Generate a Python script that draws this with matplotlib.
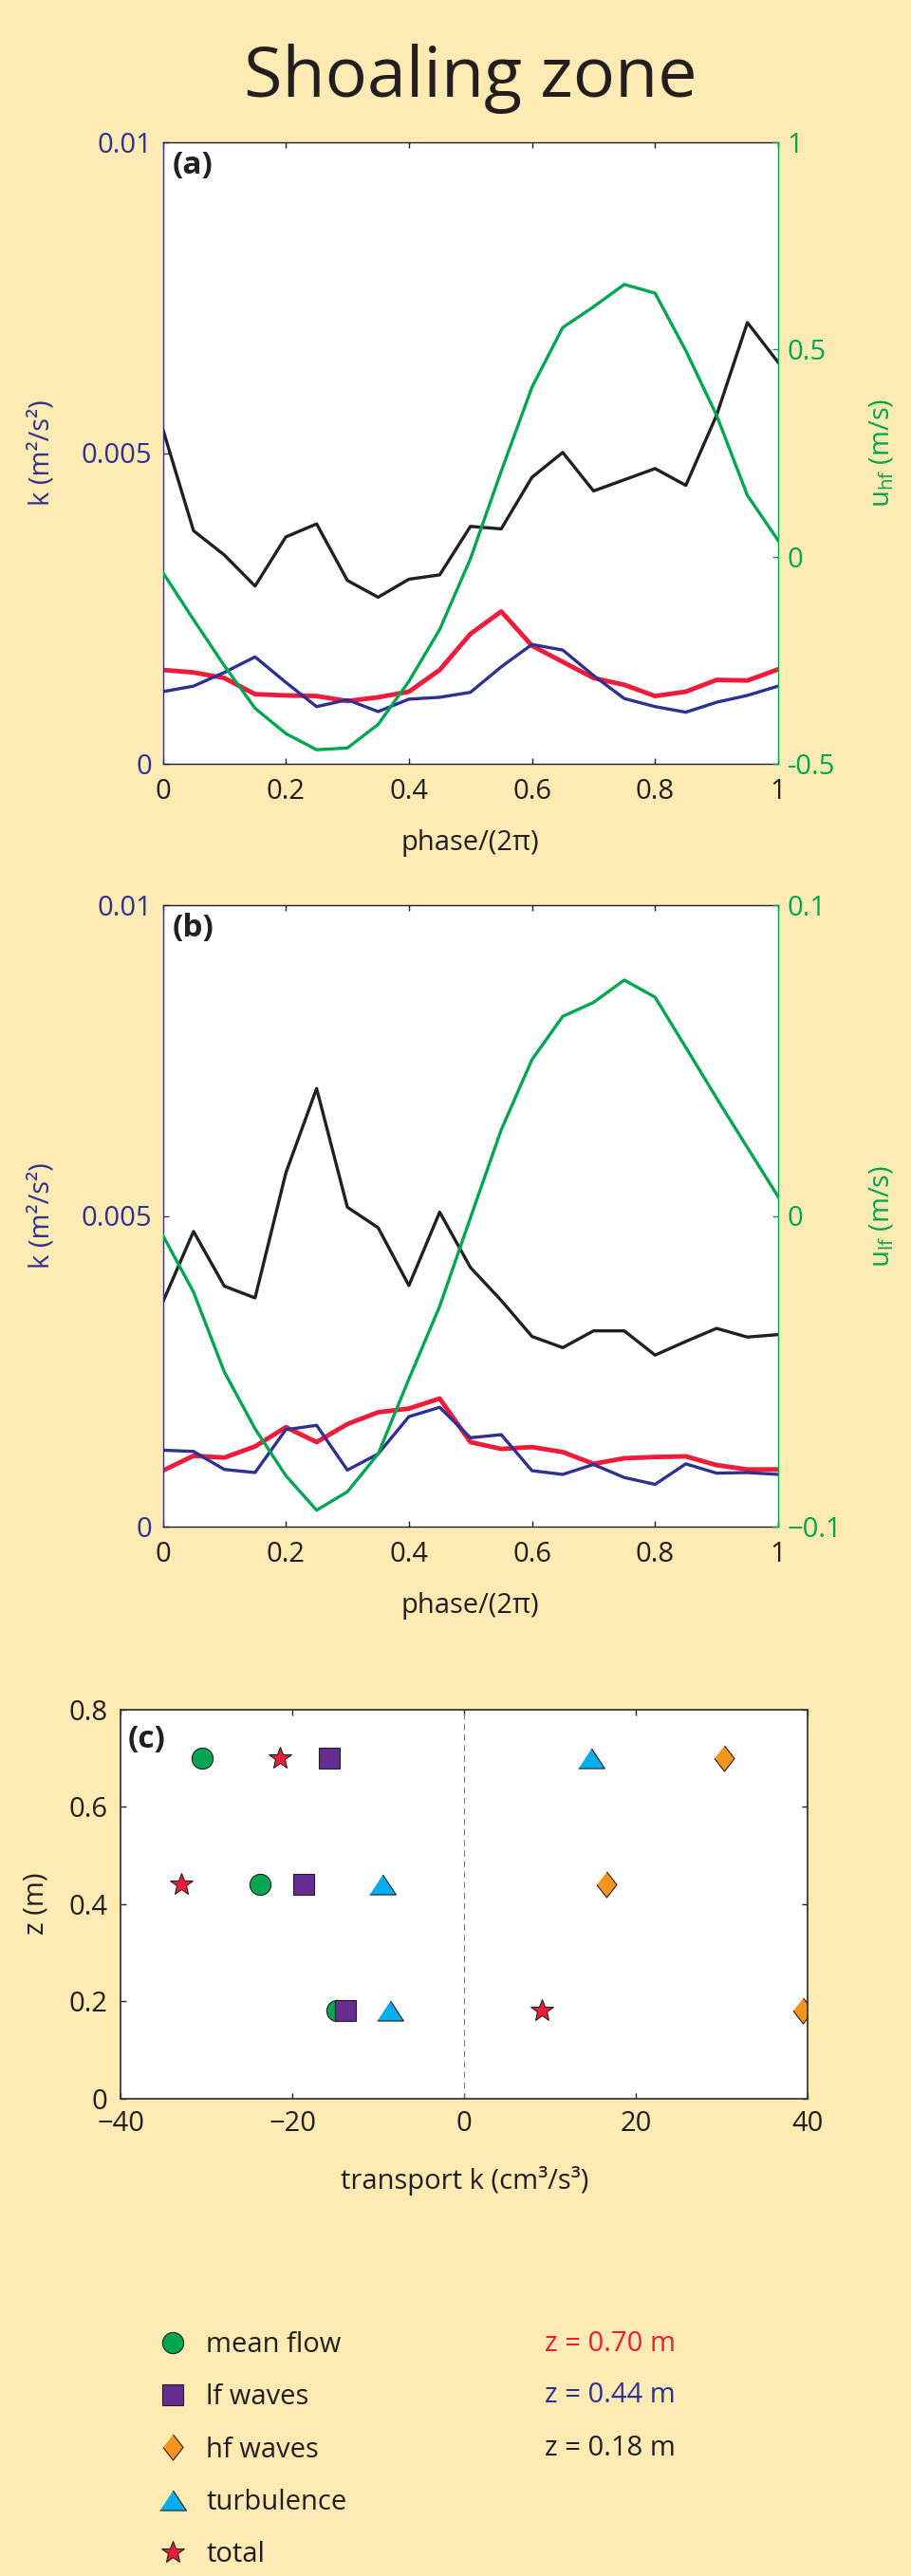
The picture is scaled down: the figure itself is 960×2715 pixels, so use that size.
import matplotlib
matplotlib.use('Agg')
import matplotlib.pyplot as plt
from matplotlib.lines import Line2D

plt.rcParams['font.family'] = ['Open Sans', 'DejaVu Sans']
plt.rcParams['mathtext.fontset'] = 'custom'
plt.rcParams['mathtext.rm'] = 'Open Sans'
plt.rcParams['mathtext.it'] = 'Open Sans:italic'
plt.rcParams['mathtext.bf'] = 'Open Sans:bold'

BG = '#FEEBB3'
NAVY = '#2E3192'
GREEN = '#00A651'
RED = '#ED1C3A'
BLACK = '#231F20'

# phase-averaged tke, colours by height (red 0.70 m, blue 0.44 m, black 0.18 m)
phase = [0, 0.05, 0.1, 0.15, 0.2, 0.25, 0.3, 0.35, 0.4, 0.45, 0.5,
         0.55, 0.6, 0.65, 0.7, 0.75, 0.8, 0.85, 0.9, 0.95, 1.0]

a_k070 = [0.00151, 0.00147, 0.00138, 0.00112, 0.00110, 0.00109, 0.00101, 0.00107, 0.00116, 0.00151, 0.00209,
          0.00245, 0.00190, 0.00164, 0.00138, 0.00127, 0.00109, 0.00116, 0.00135, 0.00134, 0.00152]
a_k044 = [0.00116, 0.00125, 0.00147, 0.00172, 0.00131, 0.00092, 0.00103, 0.00084, 0.00104, 0.00107, 0.00115,
          0.00156, 0.00192, 0.00183, 0.00142, 0.00105, 0.00092, 0.00083, 0.00099, 0.00110, 0.00125]
a_k018 = [0.00539, 0.00375, 0.00336, 0.00286, 0.00365, 0.00386, 0.00295, 0.00268, 0.00297, 0.00304, 0.00382,
          0.00378, 0.00461, 0.00501, 0.00439, 0.00457, 0.00475, 0.00448, 0.00561, 0.00710, 0.00646]
a_uhf = [-0.038, -0.152, -0.263, -0.366, -0.427, -0.466, -0.462, -0.405, -0.301, -0.176, -0.005,
         0.206, 0.409, 0.553, 0.603, 0.657, 0.636, 0.497, 0.341, 0.148, 0.039]

b_k070 = [0.00090, 0.00114, 0.00111, 0.00129, 0.00160, 0.00136, 0.00165, 0.00184, 0.00190, 0.00206, 0.00136,
          0.00125, 0.00128, 0.00120, 0.00101, 0.00110, 0.00112, 0.00113, 0.00099, 0.00092, 0.00092]
b_k044 = [0.00123, 0.00121, 0.00092, 0.00087, 0.00156, 0.00163, 0.00091, 0.00117, 0.00177, 0.00192, 0.00143,
          0.00148, 0.00090, 0.00084, 0.00100, 0.00079, 0.00068, 0.00101, 0.00086, 0.00087, 0.00084]
b_k018 = [0.00361, 0.00475, 0.00387, 0.00368, 0.00569, 0.00705, 0.00514, 0.00481, 0.00388, 0.00506, 0.00417,
          0.00364, 0.00306, 0.00288, 0.00315, 0.00315, 0.00276, 0.00298, 0.00319, 0.00305, 0.00309]
b_ulf = [-0.0062, -0.0245, -0.0502, -0.0685, -0.0836, -0.0947, -0.0888, -0.0766, -0.0525, -0.0291, -0.0006,
         0.0277, 0.0503, 0.0642, 0.0687, 0.0759, 0.0704, 0.0542, 0.0379, 0.0220, 0.0062]

phase_ticks = [0, 0.2, 0.4, 0.6, 0.8, 1]
phase_labels = ['0', '0.2', '0.4', '0.6', '0.8', '1']
k_ticks = [0, 0.005, 0.01]
k_labels = ['0', '0.005', '0.01']

# transport of k, panel (c)
heights = [0.70, 0.44, 0.18]
mean_flow = [-30.5, -23.8, -14.8]
lf_waves = [-15.7, -18.7, -13.9]
hf_waves = [30.2, 16.6, 39.4]
turbulence = [14.8, -9.5, -8.6]
total = [-21.5, -33.0, 9.0]

H = 2715.0
W = 960.0
fig = plt.figure(figsize=(9.6, 27.15), dpi=100, facecolor=BG)

fig.text(496 / W, 1 - 102 / H, 'Shoaling zone', ha='center', va='baseline',
         fontsize=53, color=BLACK)

FS = 21
TL = 4.3


def phase_panel(top_px, k070, k044, k018, u, ulim, uticks, ulabels, ulabel, tag):
    ax = fig.add_axes([171.5 / W, 1 - (top_px + 655) / H, 648.5 / W, 655 / H])
    ax.set_facecolor('white')
    ax.plot(phase, k070, color=RED, lw=3.5)
    ax.plot(phase, k044, color=NAVY, lw=2.4)
    ax.plot(phase, k018, color=BLACK, lw=2.4)
    ax.set_xlim(0, 1)
    ax.set_ylim(0, 0.01)
    ax.set_xticks(phase_ticks)
    ax.set_xticklabels(phase_labels)
    ax.set_yticks(k_ticks)
    ax.set_yticklabels(k_labels)
    ax.tick_params(axis='x', direction='in', top=True, length=TL, width=1,
                   labelsize=FS, pad=11, colors=BLACK)
    ax.tick_params(axis='y', direction='in', right=False, length=TL, width=1,
                   labelsize=FS, pad=8, colors=NAVY)
    ax.spines['right'].set_visible(False)
    ax.spines['left'].set_color(NAVY)
    for s in ['top', 'bottom']:
        ax.spines[s].set_color(BLACK)
    for s in ax.spines.values():
        s.set_linewidth(1)
    ax.set_xlabel('phase/(2π)', fontsize=FS, color=BLACK)
    ax.xaxis.set_label_coords(0.5, -0.105)
    ax.set_ylabel('k (m²/s²)', fontsize=FS, color=NAVY)
    ax.yaxis.set_label_coords(-0.174, 0.5)
    ax.text(0.016, 0.988, tag, transform=ax.transAxes, ha='left', va='top',
            fontsize=24, fontweight='bold', color=BLACK)

    ax2 = ax.twinx()
    ax2.plot(phase, u, color=GREEN, lw=2.4)
    ax2.set_ylim(*ulim)
    ax2.set_yticks(uticks)
    ax2.set_yticklabels(ulabels)
    ax2.tick_params(axis='y', direction='in', length=TL, width=1,
                    labelsize=FS, pad=7, colors=GREEN)
    for s in ['left', 'top', 'bottom']:
        ax2.spines[s].set_visible(False)
    ax2.spines['right'].set_color(GREEN)
    ax2.spines['right'].set_linewidth(1)
    ax2.set_ylabel(ulabel, fontsize=FS, color=GREEN)
    ax2.yaxis.set_label_coords(1.146, 0.5)
    return ax, ax2


phase_panel(150, a_k070, a_k044, a_k018, a_uhf, (-0.5, 1), [-0.5, 0, 0.5, 1],
            ['-0.5', '0', '0.5', '1'], r'u$_{\mathrm{hf}}$ (m/s)', '(a)')
phase_panel(954, b_k070, b_k044, b_k018, b_ulf, (-0.1, 0.1), [-0.1, 0, 0.1],
            ['\u22120.1', '0', '0.1'], r'u$_{\mathrm{lf}}$ (m/s)', '(b)')

# panel (c)
axc = fig.add_axes([127.4 / W, 1 - 2211.7 / H, 723.8 / W, 410 / H])
axc.set_facecolor('white')
axc.axvline(0, color='#7F7F7F', lw=0.8, ls=(0, (6, 4)))

tri = [(-1, -0.76), (1, -0.76), (0, 0.76)]
dia = [(0, 1), (0.78, 0), (0, -1), (-0.78, 0)]
styles = [
    ('mean flow', mean_flow, 'o', '#00A651', 16),
    ('lf waves', lf_waves, 's', '#662D91', 15.5),
    ('hf waves', hf_waves, dia, '#F7941D', 19.5),
    ('turbulence', turbulence, tri, '#00AEEF', 20),
    ('total', total, '*', '#ED1C3A', 18),
]
handles = []
for name, vals, mk, col, ms in styles:
    axc.plot(vals, heights, ls='none', marker=mk, markersize=ms,
             markerfacecolor=col, markeredgecolor='#231F20', markeredgewidth=0.8)
    handles.append(Line2D([], [], ls='none', marker=mk, markersize=ms,
                          markerfacecolor=col, markeredgecolor='#231F20',
                          markeredgewidth=0.8, label=name))

axc.set_xlim(-40, 40)
axc.set_ylim(0, 0.8)
axc.set_xticks([-40, -20, 0, 20, 40])
axc.set_xticklabels(['\u221240', '\u221220', '0', '20', '40'])
axc.set_yticks([0, 0.2, 0.4, 0.6, 0.8])
axc.set_yticklabels(['0', '0.2', '0.4', '0.6', '0.8'])
axc.tick_params(direction='in', top=True, right=True, length=TL, width=1,
                labelsize=FS, colors=BLACK)
axc.tick_params(axis='x', pad=9)
axc.tick_params(axis='y', pad=10)
for s in axc.spines.values():
    s.set_linewidth(1.3)
    s.set_color('#3A3A3A')
axc.set_xlabel('transport k (cm³/s³)', fontsize=FS, color=BLACK)
axc.xaxis.set_label_coords(0.5, -0.175)
axc.set_ylabel('z (m)', fontsize=FS, color=BLACK)
axc.yaxis.set_label_coords(-0.103, 0.5)
axc.text(0.0105, 0.962, '(c)', transform=axc.transAxes, ha='left', va='top',
         fontsize=24, fontweight='bold', color=BLACK)

# legend block
fig.legend(handles=handles, loc='upper left', bbox_to_anchor=(167.5 / W, 1 - 2457 / H),
           frameon=False, fontsize=FS, handlelength=1.0, handletextpad=0.7,
           labelspacing=0.9, borderpad=0, borderaxespad=0, labelcolor=BLACK)

z_texts = ['z = 0.70 m', 'z = 0.44 m', 'z = 0.18 m']
z_cols = [RED, NAVY, BLACK]
z_rows = [2470, 2525, 2581]
for t, c, y in zip(z_texts, z_cols, z_rows):
    fig.text(574 / W, 1 - y / H, t, ha='left', va='center', fontsize=FS, color=c)

fig.savefig('out.png', dpi=100, facecolor=BG)
